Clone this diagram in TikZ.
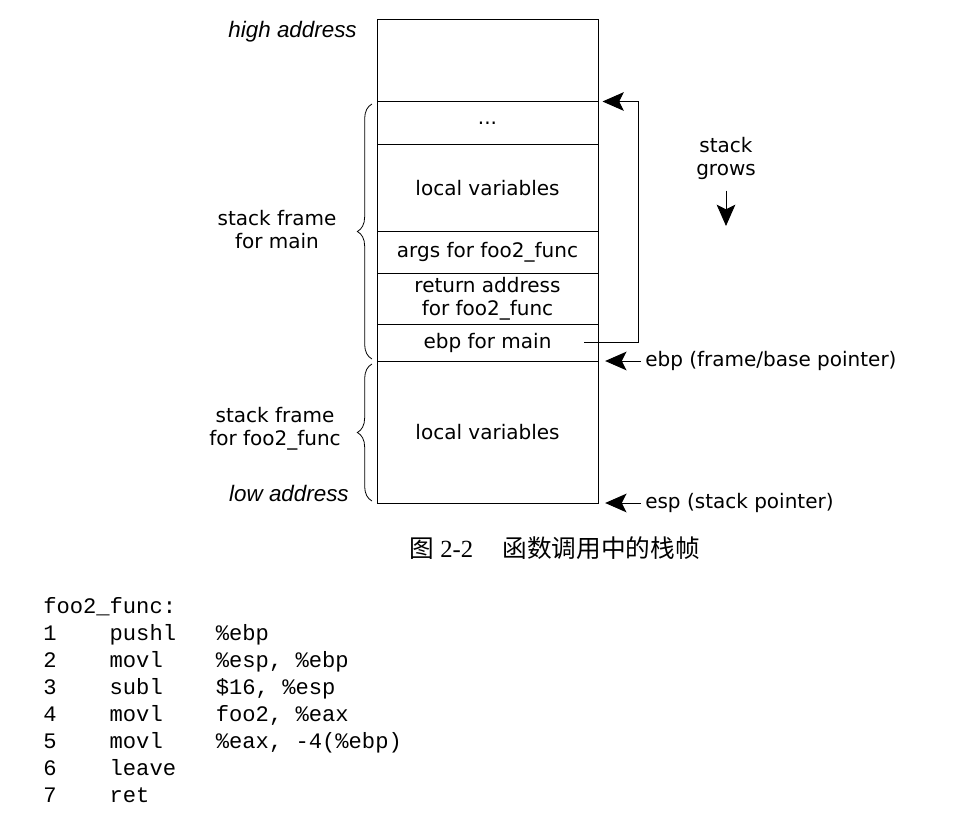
\documentclass[tikz,border=0pt]{standalone}
\usepackage{fontspec}
\setmainfont{DejaVu Sans}
\newfontfamily\arialfont{Liberation Sans}
\newfontfamily\codefont{Liberation Mono}
\newfontfamily\timesfont{Liberation Serif}
\newfontfamily\cjk{Noto Sans CJK SC}
\usepackage{tikz}
\usetikzlibrary{arrows.meta,decorations.pathreplacing}

\tikzset{
  cell/.style={draw, line width=0.75pt, minimum width=165.75pt, inner sep=0pt, align=center},
  lbl/.style={inner sep=0pt, align=center},
  addr/.style={anchor=east, inner sep=0pt, font=\arialfont\itshape\fontsize{16.8}{20}\selectfont},
  ptrlbl/.style={anchor=west, inner sep=3pt},
  ptr/.style={line width=0.75pt, -{Stealth[length=16pt,width=14pt,inset=3.5pt]}},
  framebrace/.style={decorate, decoration={brace, amplitude=11pt}, line width=0.6pt}
}

\begin{document}
\begin{tikzpicture}[x=0.75pt,y=0.75pt,yscale=-1,xscale=1,font=\fontsize{15}{17.25}\selectfont]
\useasboundingbox (0,0) rectangle (964,820);

%Shape: Rectangle (stack cells, top to bottom)
\draw (487.5,61) node [cell, minimum height=61.5pt] (top) {};
\draw (487.5,123.5) node [cell, minimum height=32.25pt] (dots) {...};
\draw (487.5,188.5) node [cell, minimum height=65.25pt] (mainvars) {local variables};
\draw (487.5,252.5) node [cell, minimum height=30.75pt] (args) {args for foo2\_func};
\draw (487.5,298.5) node [cell, minimum height=38.25pt] (retaddr) {return address\\for foo2\_func};
\draw (487.5,342.5) node [cell, minimum height=27.75pt] (ebpmain) {ebp for main};
\draw (487.5,432) node [cell, minimum height=106.5pt] (foovars) {local variables};

%Shape: Brace
\draw [framebrace] (372,359) -- (372,104);
%Shape: Brace
\draw [framebrace] (372,501) -- (372,364);

% Text Node
\draw (357,32) node [addr] (high) {high address};
% Text Node
\draw (349,493) node [addr] (low) {low address};
% Text Node
\draw (277,229.5) node [lbl] (framemain) {stack frame\\for main};
% Text Node
\draw (275,428.5) node [lbl] (framefoo) {stack frame\\for foo2\_func};

%Straight Lines (saved ebp points back to the frame of main)
\coordinate (savedebp) at (584,342);
\draw [ptr, shorten >=3pt] (savedebp) -- ++(54,0) |- (dots.north east);

% Text Node
\draw (726,158.5) node [lbl] (grows) {stack\\grows};
\coordinate (growtip) at (726,226);
\draw [ptr, shorten <=8pt] (grows) -- (growtip);

% Text Node
\draw (641,361) node [ptrlbl] (ebplbl) {ebp (frame/base pointer)};
\draw [ptr, shorten >=5pt] (ebplbl.west) -- (ebplbl.west -| ebpmain.south east);
% Text Node
\draw (641,503) node [ptrlbl] (esplbl) {esp (stack pointer)};
\draw [ptr, shorten >=5pt] (esplbl.west) -- (esplbl.west -| foovars.south east);

% Text Node
\draw (554.5,548) node [inner sep=0pt] [font=\fontsize{18.5}{22}\selectfont] (caption) {{\cjk 图}\hspace{5pt}{\timesfont 2-2}\hspace{22pt}{\cjk 函数调用中的栈帧}};

% Text Node
\draw (43,597) node [anchor=north west][inner sep=0pt] [align=left] [font=\codefont\fontsize{16.6}{20.25}\selectfont] (code) {foo2\_func:\\
1\ \ \ \ pushl\ \ \ \%ebp\\
2\ \ \ \ movl\ \ \ \ \%esp, \%ebp\\
3\ \ \ \ subl\ \ \ \ \$16, \%esp\\
4\ \ \ \ movl\ \ \ \ foo2, \%eax\\
5\ \ \ \ movl\ \ \ \ \%eax, -4(\%ebp)\\
6\ \ \ \ leave\\
7\ \ \ \ ret};

\end{tikzpicture}
\end{document}
